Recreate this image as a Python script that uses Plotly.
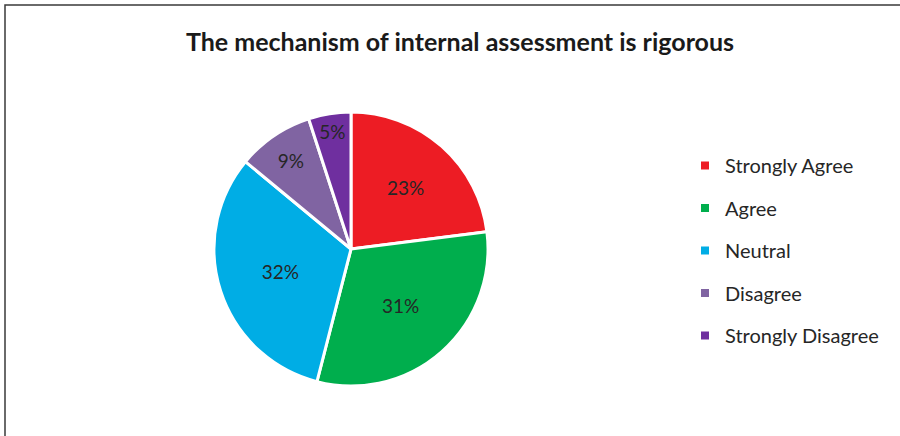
import plotly.graph_objects as go

# 数据
labels = ['Strongly Agree', 'Agree', 'Neutral', 'Disagree', 'Strongly Disagree']
values = [23, 31, 32, 9, 5]
colors = ['#ED1C24', '#00AE4D', '#00ADE5', '#8064A2', '#6F2F9F']

W, H = 900, 436
cx, cy, r = 351, 249, 137

fig = go.Figure()

# 饼图
fig.add_trace(go.Pie(
    labels=labels,
    values=values,
    sort=False,
    direction='clockwise',
    rotation=0,
    marker=dict(colors=colors, line=dict(color='white', width=3)),
    textinfo='percent',
    textposition='inside',
    insidetextorientation='horizontal',
    textfont=dict(family='Lato', size=19, color='#262626'),
    showlegend=False,
    domain=dict(x=[(cx - r) / W, (cx + r) / W],
                y=[(H - cy - r) / H, (H - cy + r) / H]),
    hoverinfo='label+percent',
))

# 图例（每项单独一组，用于控制间距）
for name, color in zip(labels, colors):
    fig.add_trace(go.Scatter(
        x=[None], y=[None], mode='markers', name=name,
        legendgroup=name,
        marker=dict(symbol='square', size=8, color=color),
    ))

fig.update_layout(
    width=W, height=H,
    margin=dict(l=0, r=0, t=0, b=0),
    paper_bgcolor='white',
    plot_bgcolor='white',
    title=dict(
        text='<b>The mechanism of internal assessment is rigorous</b>',
        x=460 / W, xanchor='center', y=1 - 42 / H, yanchor='middle',
        font=dict(family='Lato', size=25, color='#1a1a1a'),
    ),
    xaxis=dict(visible=False),
    yaxis=dict(visible=False),
    legend=dict(
        x=685 / W, xanchor='left', y=1 - 146 / H, yanchor='top',
        font=dict(family='Lato', size=20, color='#262626'),
        traceorder='grouped', tracegroupgap=13.5,
        itemclick=False,
    ),
    shapes=[dict(
        type='rect', xref='paper', yref='paper',
        x0=5 / W, x1=1.05, y0=-0.05, y1=1 - 5 / H,
        line=dict(color='#3a3a3a', width=1.5),
    )],
)

fig.write_html("out.html", config={'displayModeBar': False},
               post_script="document.body.style.margin='0';")
